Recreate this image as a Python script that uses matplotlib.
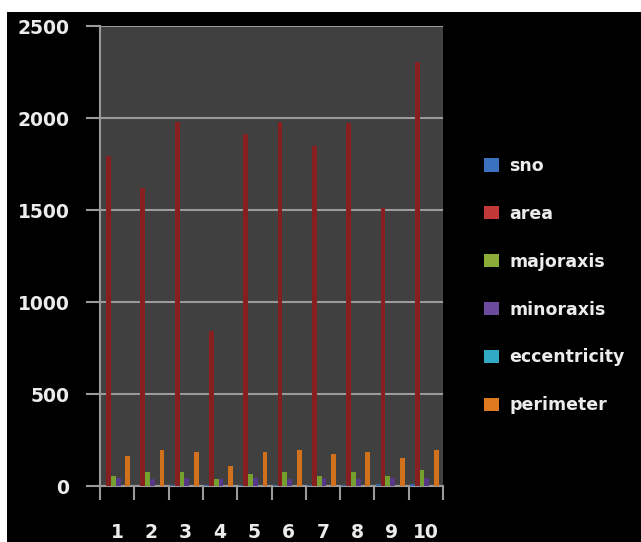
import matplotlib
matplotlib.use("Agg")
import matplotlib.pyplot as plt
from matplotlib.patches import Patch, Rectangle
import numpy as np

categories = ["1", "2", "3", "4", "5", "6", "7", "8", "9", "10"]
sno = [1, 2, 3, 4, 5, 6, 7, 8, 9, 10]
area = [1795, 1620, 1980, 840, 1915, 1978, 1848, 1972, 1513, 2305]
majoraxis = [54, 76, 76, 36, 65, 76, 54, 76, 54, 87]
minoraxis = [45, 36, 43, 36, 45, 36, 45, 40, 45, 45]
eccentricity = [0.8, 0.9, 0.7, 0.8, 0.9, 0.8, 0.9, 0.8, 0.9, 0.8]
perimeter = [163, 196, 187, 109, 187, 196, 174, 187, 150, 196]

series = [("sno", sno), ("area", area), ("majoraxis", majoraxis),
          ("minoraxis", minoraxis), ("eccentricity", eccentricity),
          ("perimeter", perimeter)]
bar_colors = ["#3566a8", "#862020", "#76a02e", "#56378a", "#2b9dbd", "#d2711c"]
leg_colors = ["#3b72c0", "#c03838", "#8cac3a", "#6b4b9e", "#31a8c4", "#e07a20"]

txt = "#ececec"
grid = "#9a9a9a"

fig = plt.figure(figsize=(6.41, 5.42), dpi=100, facecolor="black")
# white margins at top and left of the screenshot
fig.patches.append(Rectangle((0, 1 - 12 / 542), 1, 12 / 542, transform=fig.transFigure,
                             facecolor="white", edgecolor="none", zorder=0))
fig.patches.append(Rectangle((0, 0), 7 / 641, 1, transform=fig.transFigure,
                             facecolor="white", edgecolor="none", zorder=0))

ax = fig.add_axes([100 / 641, 1 - 486 / 542, 343 / 641, 460 / 542])
ax.set_facecolor("#404040")

x = np.arange(len(categories))
w = 0.14
for i, (name, vals) in enumerate(series):
    ax.bar(x + (i - 2.5) * w - 0.04, vals, width=w, color=bar_colors[i],
           zorder=3, linewidth=0)

ax.set_xlim(-0.5, len(categories) - 0.5)
ax.set_ylim(0, 2500)
ax.set_yticks([0, 500, 1000, 1500, 2000, 2500])
ax.set_xticks(np.arange(len(categories) + 1) - 0.5, minor=False)
ax.set_xticklabels([])
ax.set_xticks(x, minor=True)
ax.set_xticklabels(categories, minor=True)
ax.tick_params(axis="x", which="major", length=10, width=1.5, color=grid)
ax.tick_params(axis="x", which="minor", length=0, pad=27, labelsize=13.5,
               labelcolor=txt)
ax.tick_params(axis="y", length=10, width=1.5, color=grid, pad=12,
               labelsize=13.5, labelcolor=txt)
for lab in ax.get_xticklabels(minor=True) + ax.get_yticklabels():
    lab.set_fontweight("bold")

ax.yaxis.grid(True, color=grid, linewidth=1.5, zorder=1)
for side in ["top", "right"]:
    ax.spines[side].set_visible(False)
for side in ["left", "bottom"]:
    ax.spines[side].set_color(grid)
    ax.spines[side].set_linewidth(1.5)

handles = [Patch(facecolor=c, edgecolor="none") for c in leg_colors]
leg = fig.legend(handles, [s[0] for s in series], loc="upper left",
                 bbox_to_anchor=(484 / 641, 1 - 157 / 542), frameon=False,
                 borderpad=0, borderaxespad=0, handlelength=0.85,
                 handleheight=0.8, handletextpad=0.6, labelspacing=1.72,
                 prop={"size": 12.5, "weight": "bold"})
for t in leg.get_texts():
    t.set_color(txt)

fig.savefig("out.png", dpi=100, facecolor=fig.get_facecolor())
